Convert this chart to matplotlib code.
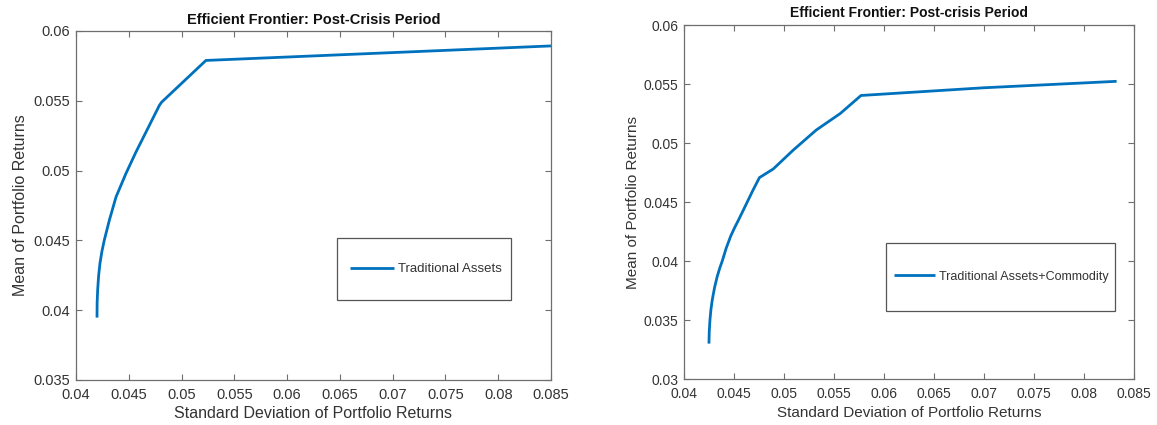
import matplotlib
matplotlib.use("Agg")
import matplotlib.pyplot as plt
from matplotlib.patches import Rectangle

# ---------------- data ----------------
left_title = "Efficient Frontier: Post-Crisis Period"
right_title = "Efficient Frontier: Post-crisis Period"
x_label = "Standard Deviation of Portfolio Returns"
y_label = "Mean of Portfolio Returns"
left_legend = "Traditional Assets"
right_legend = "Traditional Assets+Commodity"

left_std = [0.04199, 0.04200, 0.04205, 0.04214, 0.04227, 0.04245, 0.04268,
            0.04316, 0.04379, 0.04473, 0.04568, 0.04679, 0.04789, 0.04811,
            0.05231, 0.08500]
left_mean = [0.03947, 0.04050, 0.04145, 0.04245, 0.04336, 0.04420, 0.04502,
             0.04645, 0.04811, 0.04979, 0.05133, 0.05300, 0.05466, 0.05490,
             0.05789, 0.05893]

right_std = [0.04247, 0.04250, 0.04257, 0.04267, 0.04280, 0.04303, 0.04330,
             0.04355, 0.04380, 0.04420, 0.04464, 0.04505, 0.04547, 0.04590,
             0.04630, 0.04690, 0.04752, 0.04890, 0.05090, 0.05320, 0.05560,
             0.05768, 0.06990, 0.08324]
right_mean = [0.03300, 0.03400, 0.03500, 0.03590, 0.03670, 0.03775, 0.03870,
              0.03940, 0.04000, 0.04110, 0.04210, 0.04285, 0.04355, 0.04430,
              0.04500, 0.04605, 0.04707, 0.04780, 0.04940, 0.05110, 0.05250,
              0.05403, 0.05468, 0.05523]

x_ticks = [0.04, 0.045, 0.05, 0.055, 0.06, 0.065, 0.07, 0.075, 0.08, 0.085]
x_tick_labels = ["0.04", "0.045", "0.05", "0.055", "0.06", "0.065", "0.07",
                 "0.075", "0.08", "0.085"]
left_y_ticks = [0.035, 0.04, 0.045, 0.05, 0.055, 0.06]
left_y_tick_labels = ["0.035", "0.04", "0.045", "0.05", "0.055", "0.06"]
right_y_ticks = [0.03, 0.035, 0.04, 0.045, 0.05, 0.055, 0.06]
right_y_tick_labels = ["0.03", "0.035", "0.04", "0.045", "0.05", "0.055", "0.06"]

# ---------------- style ----------------
plt.rcParams['font.family'] = ['Liberation Sans', 'DejaVu Sans']
LINE_C = '#0072BD'
TXT_C = '#333333'
AX_C = '#6e6e6e'

fig = plt.figure(figsize=(11.57, 4.25), dpi=100)
fig.patch.set_facecolor('white')

axL = fig.add_axes([0.0657, 0.1059, 0.4105, 0.8212])
axR = fig.add_axes([0.5914, 0.1082, 0.3889, 0.8329])


def style(ax, yt, ytl, ylim, tick_fs, lab_fs, title, title_fs, title_pad,
          xlabpad, ylabpad):
    ax.set_xlim(0.04, 0.085)
    ax.set_ylim(*ylim)
    ax.set_xticks(x_ticks)
    ax.set_xticklabels(x_tick_labels)
    ax.set_yticks(yt)
    ax.set_yticklabels(ytl)
    ax.tick_params(direction='in', length=4, width=0.8, colors=AX_C,
                   labelcolor=TXT_C, labelsize=tick_fs, top=True, right=True)
    ax.tick_params(axis='x', pad=5.5)
    ax.tick_params(axis='y', pad=4)
    for s in ax.spines.values():
        s.set_color(AX_C)
        s.set_linewidth(0.9)
    ax.set_xlabel(x_label, fontsize=lab_fs, color=TXT_C, labelpad=xlabpad)
    ax.set_ylabel(y_label, fontsize=lab_fs, color=TXT_C, labelpad=ylabpad)
    ax.set_title(title, fontsize=title_fs, fontweight='bold', color='#111111',
                 pad=title_pad)


style(axL, left_y_ticks, left_y_tick_labels, (0.035, 0.06), 10.5, 11.5,
      left_title, 10.5, 5, 3.5, 4)
style(axR, right_y_ticks, right_y_tick_labels, (0.03, 0.06), 10, 11,
      right_title, 10, 5.5, 4, 3)

lL, = axL.plot(left_std, left_mean, color=LINE_C, lw=2.0,
               solid_capstyle='butt', solid_joinstyle='round',
               label=left_legend)
lR, = axR.plot(right_std, right_mean, color=LINE_C, lw=2.0,
               solid_capstyle='butt', solid_joinstyle='round',
               label=right_legend)


def add_legend(ax, box, center, fs, hl):
    x0, y0, x1, y1 = box
    ax.add_patch(Rectangle((x0, y0), x1 - x0, y1 - y0, transform=ax.transAxes,
                           facecolor='white', edgecolor='#555555', lw=0.9,
                           zorder=5))
    leg = ax.legend(loc='center', bbox_to_anchor=center, frameon=False,
                    fontsize=fs, handlelength=hl, handletextpad=0.3,
                    borderaxespad=0)
    leg.set_zorder(6)
    for t in leg.get_texts():
        t.set_color(TXT_C)
    return leg

add_legend(axL, (0.549, 0.229, 0.916, 0.407), (0.737, 0.318), 9.5, 3.3)
add_legend(axR, (0.4487, 0.193, 0.958, 0.385), (0.705, 0.289), 9, 3.3)

fig.savefig('out.png', dpi=100, facecolor='white')
